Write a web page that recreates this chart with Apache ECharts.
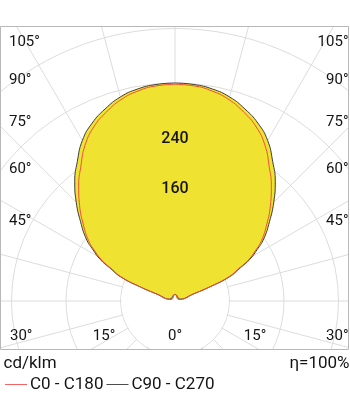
<!DOCTYPE html>
<html><head><meta charset="utf-8">
<script src="https://cdn.jsdelivr.net/npm/echarts@6/dist/echarts.min.js"></script>
<style>html,body{margin:0;padding:0;background:#fff}#c{width:350px;height:395px}</style>
</head><body><div id="c"></div>
<script>
// vertical angle gamma (deg, 0 = down) for the lit part of each half-plane
const gammaDeg = [110,111,112,114,117,119,122,125,130,135,140,145,150,155,160,165,170,175,180];
// luminous intensity, cd/klm
const c0c180  = [6,27,52,85,105,122,139,155,176,198,220,241,264,282,295,306,313,317,318];
const c90c270 = [8,30,55,88,108,125,142,159,181,205,229,250,272,288,300,310,316,319,320];
const joinValue = 10;            // where the two halves of each trace meet (gamma 180 side)
const radiusTickLabels = [160, 240];
const sideAngleLabels = ['105°','90°','75°','60°','45°'];
const bottomAngleLabels = ['30°','15°','0°','15°','30°'];
const unitText = 'cd/klm';
const effText = 'η=100%';
const seriesNames = ['C0 - C180','C90 - C270'];

const FONT = 'Roboto';
const TXT = '#141414';
const GRID = '#dcdcdc';
const CX = 175, CY = 301, R = 327, RMAX = 480;

function trace(vals){
  const pts = [];
  for (let i = gammaDeg.length - 1; i >= 0; i--) pts.push([vals[i], -gammaDeg[i]]);
  pts.push([joinValue, 180]);
  for (let i = 0; i < gammaDeg.length; i++) pts.push([vals[i], gammaDeg[i]]);
  return pts;
}

const legendText = {fontFamily:FONT, fontSize:17, color:TXT};
const chart = echarts.init(document.getElementById('c'), null, {renderer:'canvas'});
chart.setOption({
  animation:false,
  polar:{center:[CX, CY], radius:R},
  angleAxis:{type:'value', min:-180, max:180, interval:15, startAngle:90, clockwise:true, z:0,
    axisLine:{show:false}, axisTick:{show:false}, axisLabel:{show:false},
    splitLine:{show:true, lineStyle:{color:GRID, width:1}}},
  radiusAxis:{type:'value', min:0, max:RMAX, interval:80, z:0,
    axisLine:{show:false}, axisTick:{show:false}, axisLabel:{show:false},
    splitLine:{show:true, lineStyle:{color:GRID, width:1}}},
  legend:{left:0, top:371, icon:'rect', itemWidth:22, itemHeight:1, itemGap:3, selectedMode:false,
    data:[{name:seriesNames[0], textStyle:legendText}, {name:seriesNames[1], textStyle:legendText}],
    textStyle:Object.assign({padding:[0,0,0,-2]}, legendText)},
  series:[
    {name:seriesNames[1], type:'line', coordinateSystem:'polar', data:trace(c90c270),
     symbol:'none', showSymbol:false, z:2, smooth:0.5,
     lineStyle:{color:'#3c3c3c', width:1}, itemStyle:{color:'#4d4d4d'},
     areaStyle:{color:'#efe230', opacity:1}},
    {name:seriesNames[0], type:'line', coordinateSystem:'polar', data:trace(c0c180),
     symbol:'none', showSymbol:false, z:3, smooth:0.5,
     lineStyle:{color:'#f0503c', width:1}, itemStyle:{color:'#f26464'}}
  ]
});

const g = [];
// masks outside the frame and inside the innermost ring
g.push({type:'rect', z:1, silent:true, shape:{x:0,y:0,width:350,height:26.5}, style:{fill:'#fff'}});
g.push({type:'rect', z:1, silent:true, shape:{x:0,y:349.5,width:350,height:50}, style:{fill:'#fff'}});
g.push({type:'rect', z:1, silent:true, shape:{x:349,y:0,width:2,height:395}, style:{fill:'#fff'}});
const ring = chart.convertToPixel({polarIndex:0}, [80, 180]);
g.push({type:'circle', z:1, silent:true, shape:{cx:CX, cy:CY, r:(CY - ring[1]) - 0.8}, style:{fill:'#fff'}});
g.push({type:'rect', z:1.5, silent:true, shape:{x:0.5,y:26.5,width:348,height:323}, style:{fill:null, stroke:'#b8b8b8', lineWidth:1}});

const lblStyle = {fontFamily:FONT, fontSize:15, fill:TXT};
const sideY = [42.5, 80.5, 122.5, 169, 221.5];
sideAngleLabels.forEach((t,i)=>{
  g.push({type:'text', z:10, style:Object.assign({text:t, x:9, y:sideY[i], align:'left', verticalAlign:'middle'}, lblStyle)});
  g.push({type:'text', z:10, style:Object.assign({text:t, x:348.5, y:sideY[i], align:'right', verticalAlign:'middle'}, lblStyle)});
});
const bottomX = [10, 104, 175, 255, 348.5];
const bottomAlign = ['left','center','center','center','right'];
bottomAngleLabels.forEach((t,i)=>{
  g.push({type:'text', z:10, style:Object.assign({text:t, x:bottomX[i], y:336.5, align:bottomAlign[i], verticalAlign:'middle'}, lblStyle)});
});
const ringLabelShift = {160:-3, 240:1.5};
radiusTickLabels.forEach(v=>{
  const p = chart.convertToPixel({polarIndex:0}, [v, 180]);
  g.push({type:'text', z:10, style:{text:String(v), x:p[0], y:p[1] + ringLabelShift[v], align:'center', verticalAlign:'middle',
    fontFamily:FONT, fontSize:16, fontWeight:500, fill:TXT}});
});
g.push({type:'text', z:10, style:{text:unitText, x:3.5, y:363.5, align:'left', verticalAlign:'middle', fontFamily:FONT, fontSize:17, fill:TXT}});
g.push({type:'text', z:10, style:{text:effText, x:349.5, y:363.5, align:'right', verticalAlign:'middle', fontFamily:FONT, fontSize:17, fill:TXT}});

chart.setOption({graphic:{elements:g}});
</script></body></html>
